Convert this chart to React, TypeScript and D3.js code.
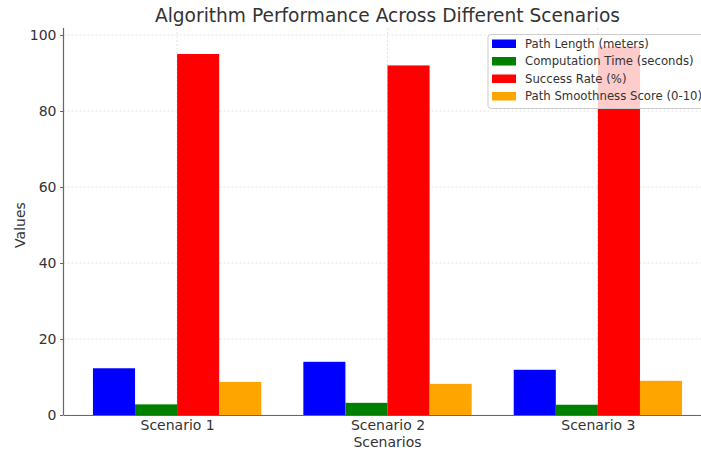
import { useEffect, useRef } from 'react';
import * as d3 from 'd3';

const scenarios = ['Scenario 1', 'Scenario 2', 'Scenario 3'];
const seriesNames = [
  'Path Length (meters)',
  'Computation Time (seconds)',
  'Success Rate (%)',
  'Path Smoothness Score (0-10)',
];
const pathLength = [12.3, 14.0, 11.9];
const computationTime = [2.8, 3.2, 2.7];
const successRate = [95, 92, 97];
const smoothness = [8.7, 8.2, 9.0];
const yTicks = [0, 20, 40, 60, 80, 100];

const colors = ['#0000ff', '#008000', '#ff0000', '#ffa500'];

export default function App() {
  const svgRef = useRef<SVGSVGElement>(null);

  useEffect(() => {
    if (!svgRef.current) return;
    const svg = d3.select(svgRef.current);
    svg.selectAll('*').remove();

    const W = 701;
    const font = '"DejaVu Sans", sans-serif';
    const series = [pathLength, computationTime, successRate, smoothness];
    const barW = 0.2;

    // ── Scales ──────────────────────────────────────────────
    const x = d3.scaleLinear().domain([-0.54, 2.54]).range([63.5, 711.5]);
    const y = d3.scaleLinear().domain([0, 101.85]).range([415, 28]);

    const g = svg.append('g');

    // ── Grid ────────────────────────────────────────────────
    g.append('g')
      .selectAll('line')
      .data(yTicks)
      .enter().append('line')
      .attr('x1', x(-0.54)).attr('x2', W)
      .attr('y1', d => y(d)).attr('y2', d => y(d))
      .attr('stroke', '#d8d8d8').attr('stroke-width', 0.7).attr('stroke-dasharray', '2,2');

    g.append('g')
      .selectAll('line')
      .data(scenarios.map((_, i) => i))
      .enter().append('line')
      .attr('x1', d => x(d)).attr('x2', d => x(d))
      .attr('y1', y(101.85)).attr('y2', y(0))
      .attr('stroke', '#d8d8d8').attr('stroke-width', 0.7).attr('stroke-dasharray', '2,2');

    // ── Bars ────────────────────────────────────────────────
    series.forEach((vals, j) => {
      const off = (j - 1.5) * barW;
      g.append('g')
        .selectAll('rect')
        .data(vals)
        .enter().append('rect')
        .attr('x', (_, i) => x(i + off - barW / 2))
        .attr('width', x(barW) - x(0))
        .attr('y', d => y(d))
        .attr('height', d => y(0) - y(d))
        .attr('fill', colors[j]);
    });

    // ── Axes ────────────────────────────────────────────────
    const yAxis = g.append('g')
      .attr('transform', `translate(${x(-0.54)},0)`)
      .call(d3.axisLeft(y).tickValues(yTicks).tickSize(3.5).tickPadding(3.5));
    yAxis.select('.domain').attr('stroke', '#666').attr('stroke-width', 1.2).attr('d', `M0,${y(101.85)}V${y(0)}`);
    yAxis.selectAll('.tick line').attr('stroke', '#666');
    yAxis.selectAll('text')
      .attr('fill', '#333').attr('font-size', '14px').attr('font-family', font);

    const xAxis = g.append('g')
      .attr('transform', `translate(0,${y(0)})`)
      .call(d3.axisBottom(x).tickValues([0, 1, 2]).tickSize(0).tickPadding(5)
        .tickFormat(d => scenarios[d as number]));
    xAxis.select('.domain').attr('stroke', '#666').attr('stroke-width', 1.2);
    xAxis.selectAll('text')
      .attr('fill', '#333').attr('font-size', '14px').attr('font-family', font);

    // ── Labels ──────────────────────────────────────────────
    svg.append('text')
      .attr('x', x(1)).attr('y', 22)
      .attr('text-anchor', 'middle')
      .attr('fill', '#333').attr('font-size', '18.6px').attr('font-family', font)
      .text('Algorithm Performance Across Different Scenarios');

    svg.append('text')
      .attr('x', x(1)).attr('y', 447)
      .attr('text-anchor', 'middle')
      .attr('fill', '#333').attr('font-size', '14px').attr('font-family', font)
      .text('Scenarios');

    svg.append('text')
      .attr('transform', `translate(25,${y(50)}) rotate(-90)`)
      .attr('text-anchor', 'middle')
      .attr('fill', '#333').attr('font-size', '14px').attr('font-family', font)
      .text('Values');

    // ── Legend ──────────────────────────────────────────────
    const leg = svg.append('g').attr('transform', 'translate(488,34.5)');
    leg.append('rect')
      .attr('width', 225).attr('height', 74).attr('rx', 3)
      .attr('fill', 'rgba(255,255,255,0.8)')
      .attr('stroke', '#cccccc').attr('stroke-width', 1);
    seriesNames.forEach((name, j) => {
      const ry = 9 + j * 17.5;
      leg.append('rect')
        .attr('x', 4).attr('y', ry - 4).attr('width', 24).attr('height', 8.5)
        .attr('fill', colors[j]);
      leg.append('text')
        .attr('x', 37).attr('y', ry + 4)
        .attr('fill', '#333').attr('font-size', '11.7px').attr('font-family', font)
        .text(name);
    });
  }, []);

  return (
    <div style={{ position: 'absolute', left: 0, top: 0, width: 701, height: 451, overflow: 'hidden', background: '#fff' }}>
      <svg ref={svgRef} width={701} height={451} style={{ display: 'block' }} />
    </div>
  );
}
